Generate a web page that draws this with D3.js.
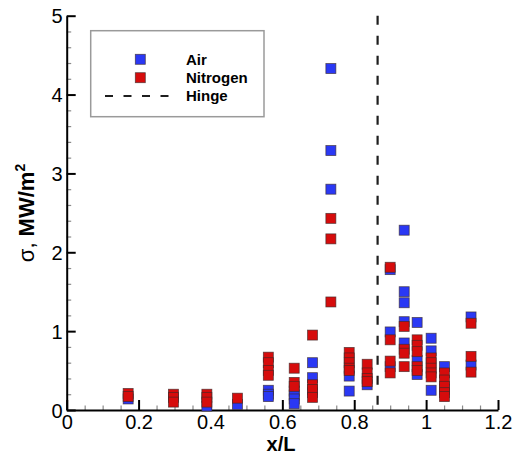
<!DOCTYPE html>
<html>
<head>
<meta charset="utf-8">
<script src="https://cdn.jsdelivr.net/npm/d3@7"></script>
<style>
  html, body { margin: 0; padding: 0; background: #fff; }
  svg { display: block; }
  text { font-family: "Liberation Sans", Arial, Helvetica, sans-serif; }
</style>
</head>
<body>
<svg id="chart" width="514" height="454"></svg>
<script>
// Measurement stations along the body, x/L
const stations = [0.171, 0.297, 0.390, 0.475, 0.561, 0.633, 0.684, 0.735,
                  0.786, 0.836, 0.900, 0.939, 0.975, 1.014, 1.051, 1.125];

// Heat flux σ (MW/m²) per station, air test gas
const airFlux = [
  [0.14], [], [0.05], [0.07], [0.25, 0.20, 0.17], [0.24, 0.19, 0.14, 0.08],
  [0.60, 0.41, 0.22], [4.33, 3.29, 2.80], [0.43, 0.24], [0.32],
  [1.78, 0.99, 0.55], [2.28, 1.50, 1.36, 1.12, 0.85], [1.11, 0.63, 0.45],
  [0.91, 0.75, 0.25], [0.55, 0.26], [1.18, 0.57]
];

// Heat flux σ (MW/m²) per station, nitrogen test gas
const nitrogenFlux = [
  [0.21, 0.17], [0.20, 0.16, 0.10], [0.20, 0.16, 0.10], [0.15],
  [0.67, 0.60, 0.50, 0.44], [0.53, 0.35, 0.30], [0.95, 0.32, 0.26, 0.16],
  [2.43, 2.17, 1.37], [0.73, 0.66, 0.60, 0.53, 0.50], [0.58, 0.47, 0.40, 0.36],
  [1.81, 0.89, 0.62, 0.47], [1.06, 0.77, 0.72, 0.55],
  [0.89, 0.82, 0.74, 0.55, 0.50], [0.66, 0.60, 0.53, 0.47, 0.42],
  [0.47, 0.38, 0.30, 0.22, 0.17], [1.10, 0.68, 0.48]
];

const hingeX = 0.865;

const xTicks = [0, 0.2, 0.4, 0.6, 0.8, 1, 1.2];
const yTicks = [0, 1, 2, 3, 4, 5];

const seriesNames = ["Air", "Nitrogen", "Hinge"];

const colors = { air: "#2a38f4", nitrogen: "#d60c0c", line: "#1e1e1e" };

const svg = d3.select("#chart");

const x = d3.scaleLinear().domain([0, 1.2]).range([66.7, 498]);
const y = d3.scaleLinear().domain([0, 5]).range([410, 15.7]);

const fmt = d => (d === 0 ? "0" : d3.format("~g")(d));

// minor ticks (drawn first so major ticks sit on top)
const xMinor = d3.range(0, 1.2001, 0.05).filter(v => Math.abs(v / 0.2 - Math.round(v / 0.2)) > 1e-6);
const yMinor = d3.range(0, 5.0001, 0.2).filter(v => Math.abs(v - Math.round(v)) > 1e-6);

const gxMinor = svg.append("g").attr("transform", `translate(0,${y(0)})`)
  .call(d3.axisBottom(x).tickValues(xMinor).tickFormat("").tickSizeInner(-4.5).tickSizeOuter(0));
gxMinor.select(".domain").remove();
gxMinor.selectAll("line").attr("stroke", "#8a8a8a").attr("stroke-width", 1.2);

const gyMinor = svg.append("g").attr("transform", `translate(${x(0)},0)`)
  .call(d3.axisLeft(y).tickValues(yMinor).tickFormat("").tickSizeInner(-4.5).tickSizeOuter(0));
gyMinor.select(".domain").remove();
gyMinor.selectAll("line").attr("stroke", "#8a8a8a").attr("stroke-width", 1.2);

// major axes
const gx = svg.append("g").attr("transform", `translate(0,${y(0)})`)
  .call(d3.axisBottom(x).tickValues(xTicks).tickFormat(fmt).tickSizeInner(-10).tickSizeOuter(0).tickPadding(4.5));
gx.select(".domain").attr("stroke", "#000").attr("stroke-width", 2);
gx.selectAll(".tick line").attr("stroke", "#000").attr("stroke-width", 2);
gx.selectAll(".tick text").attr("font-size", 20).attr("fill", "#000");

const gy = svg.append("g").attr("transform", `translate(${x(0)},0)`)
  .call(d3.axisLeft(y).tickValues(yTicks).tickFormat(fmt).tickSizeInner(-9).tickSizeOuter(0).tickPadding(4));
gy.select(".domain").attr("stroke", "#000").attr("stroke-width", 2);
gy.selectAll(".tick line").attr("stroke", "#000").attr("stroke-width", 2);
gy.selectAll(".tick text").attr("font-size", 20).attr("fill", "#000").attr("dy", "0.36em");

// hinge location
svg.append("line")
  .attr("x1", x(hingeX)).attr("x2", x(hingeX))
  .attr("y1", y(5)).attr("y2", y(0))
  .attr("stroke", colors.line).attr("stroke-width", 2.2)
  .attr("stroke-dasharray", "9,11");

// markers
const sq = 10;
function flatten(values) {
  const out = [];
  values.forEach((col, i) => col.forEach(v => out.push({ x: stations[i], v })));
  return out;
}
function drawSeries(values, fill) {
  svg.append("g").selectAll("rect").data(flatten(values)).join("rect")
    .attr("x", d => x(d.x) - sq / 2)
    .attr("y", d => y(d.v) - sq / 2)
    .attr("width", sq).attr("height", sq)
    .attr("fill", fill)
    .attr("stroke", "#3a2a2a").attr("stroke-opacity", 0.75).attr("stroke-width", 0.8);
}
drawSeries(airFlux, colors.air);
drawSeries(nitrogenFlux, colors.nitrogen);

// legend
const legend = svg.append("g");
legend.append("rect")
  .attr("x", 90.7).attr("y", 30.7).attr("width", 173.3).attr("height", 86)
  .attr("fill", "#fff").attr("stroke", "#9a9a9a").attr("stroke-width", 1.5);
const legRows = [59.3, 77.7, 96];
legend.append("rect").attr("x", 140.3 - sq / 2).attr("y", legRows[0] - sq / 2)
  .attr("width", sq).attr("height", sq).attr("fill", colors.air)
  .attr("stroke", "#3a2a2a").attr("stroke-opacity", 0.75).attr("stroke-width", 0.8);
legend.append("rect").attr("x", 140.3 - sq / 2).attr("y", legRows[1] - sq / 2)
  .attr("width", sq).attr("height", sq).attr("fill", colors.nitrogen)
  .attr("stroke", "#3a2a2a").attr("stroke-opacity", 0.75).attr("stroke-width", 0.8);
legend.append("line").attr("x1", 105).attr("x2", 175).attr("y1", legRows[2]).attr("y2", legRows[2])
  .attr("stroke", colors.line).attr("stroke-width", 2.2).attr("stroke-dasharray", "8,10.5");
legend.selectAll("text.lab").data(seriesNames).join("text")
  .attr("class", "lab")
  .attr("x", 186).attr("y", (d, i) => legRows[i] + 5.2)
  .attr("font-size", 15).attr("font-weight", "bold").attr("fill", "#000")
  .text(d => d);

// axis titles
svg.append("text")
  .attr("x", 281).attr("y", 450.5)
  .attr("text-anchor", "middle")
  .attr("font-size", 20).attr("font-weight", "bold")
  .text("x/L");

const yt = svg.append("text")
  .attr("transform", "translate(34,213) rotate(-90)")
  .attr("text-anchor", "middle")
  .attr("font-size", 22);
yt.append("tspan").text("σ, ");
yt.append("tspan").attr("font-weight", "bold").text("MW/m");
yt.append("tspan").attr("font-weight", "bold").attr("font-size", 14).attr("dy", "-0.65em").text("2");
</script>
</body>
</html>
